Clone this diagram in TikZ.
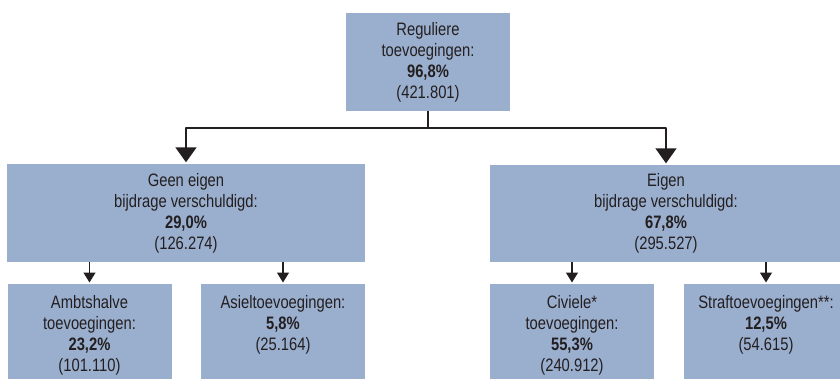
\documentclass[tikz,border=0pt]{standalone}
\usepackage{fontspec}
\setmainfont{Liberation Sans}[FakeStretch=0.82]
\usetikzlibrary{arrows.meta}
\definecolor{boxblue}{RGB}{154,174,206}
\definecolor{ink}{RGB}{35,31,32}
\begin{document}
\begin{tikzpicture}[x=1pt,y=-1pt,line join=round,
  font=\fontsize{18}{21}\selectfont,text=ink,
  box/.style={fill=boxblue,inner sep=0pt,align=center},
  leafbox/.style={box,anchor=north,minimum width=164pt,text width=156pt,text height=20.7pt,text depth=110pt,inner ysep=4pt},
  bigarrow/.style={draw=ink,line width=1.5pt,-{Triangle[width=21pt,length=15pt]},shorten >=1.5pt},
  smallarrow/.style={draw=ink,line width=1.2pt,-{Triangle[width=12pt,length=10pt]},shorten >=1pt}]
	\useasboundingbox (0,0) rectangle (840,378);
	\clip (0,0) rectangle (840,378);
	% top and middle row
	\node[box,minimum width=164pt,minimum height=98pt] (regulier) at (428,62)
		{Reguliere\\toevoegingen:\\\textbf{96,8\%}\\(421.801)};
	\node[box,minimum width=358pt,minimum height=98pt] (geen) at (186,213)
		{Geen eigen\\bijdrage verschuldigd:\\\textbf{29,0\%}\\(126.274)};
	\node[box,minimum width=352pt,minimum height=97pt] (eigen) at (666,213.5)
		{Eigen\\bijdrage verschuldigd:\\\textbf{67,8\%}\\(295.527)};
	% bottom row
	\node[leafbox] (ambt) at (89.5,283.5) {Ambtshalve\\toevoegingen:\\\textbf{23,2\%}\\(101.110)};
	\node[leafbox] (asiel) at (283,283.5) {Asieltoevoegingen:\\\textbf{5,8\%}\\(25.164)};
	\node[leafbox] (civiel) at (572,283.5) {Civiele*\\toevoegingen:\\\textbf{55,3\%}\\(240.912)};
	\node[leafbox] (straf) at (766,283.5) {Straftoevoegingen**:\\\textbf{12,5\%}\\(54.615)};
	% connectors
	\path (regulier.south) ++(0,17) coordinate (split);
	\draw[draw=ink,line width=1.5pt] (regulier.south) -- (split);
	\draw[bigarrow] (split) -| (geen.north);
	\draw[bigarrow] (split) -| (eigen.north);
	\foreach \a/\b in {geen/ambt,geen/asiel,eigen/civiel,eigen/straf}
		\draw[smallarrow] (\a.south -| \b.north) -- (\b.north);
\end{tikzpicture}
\end{document}
